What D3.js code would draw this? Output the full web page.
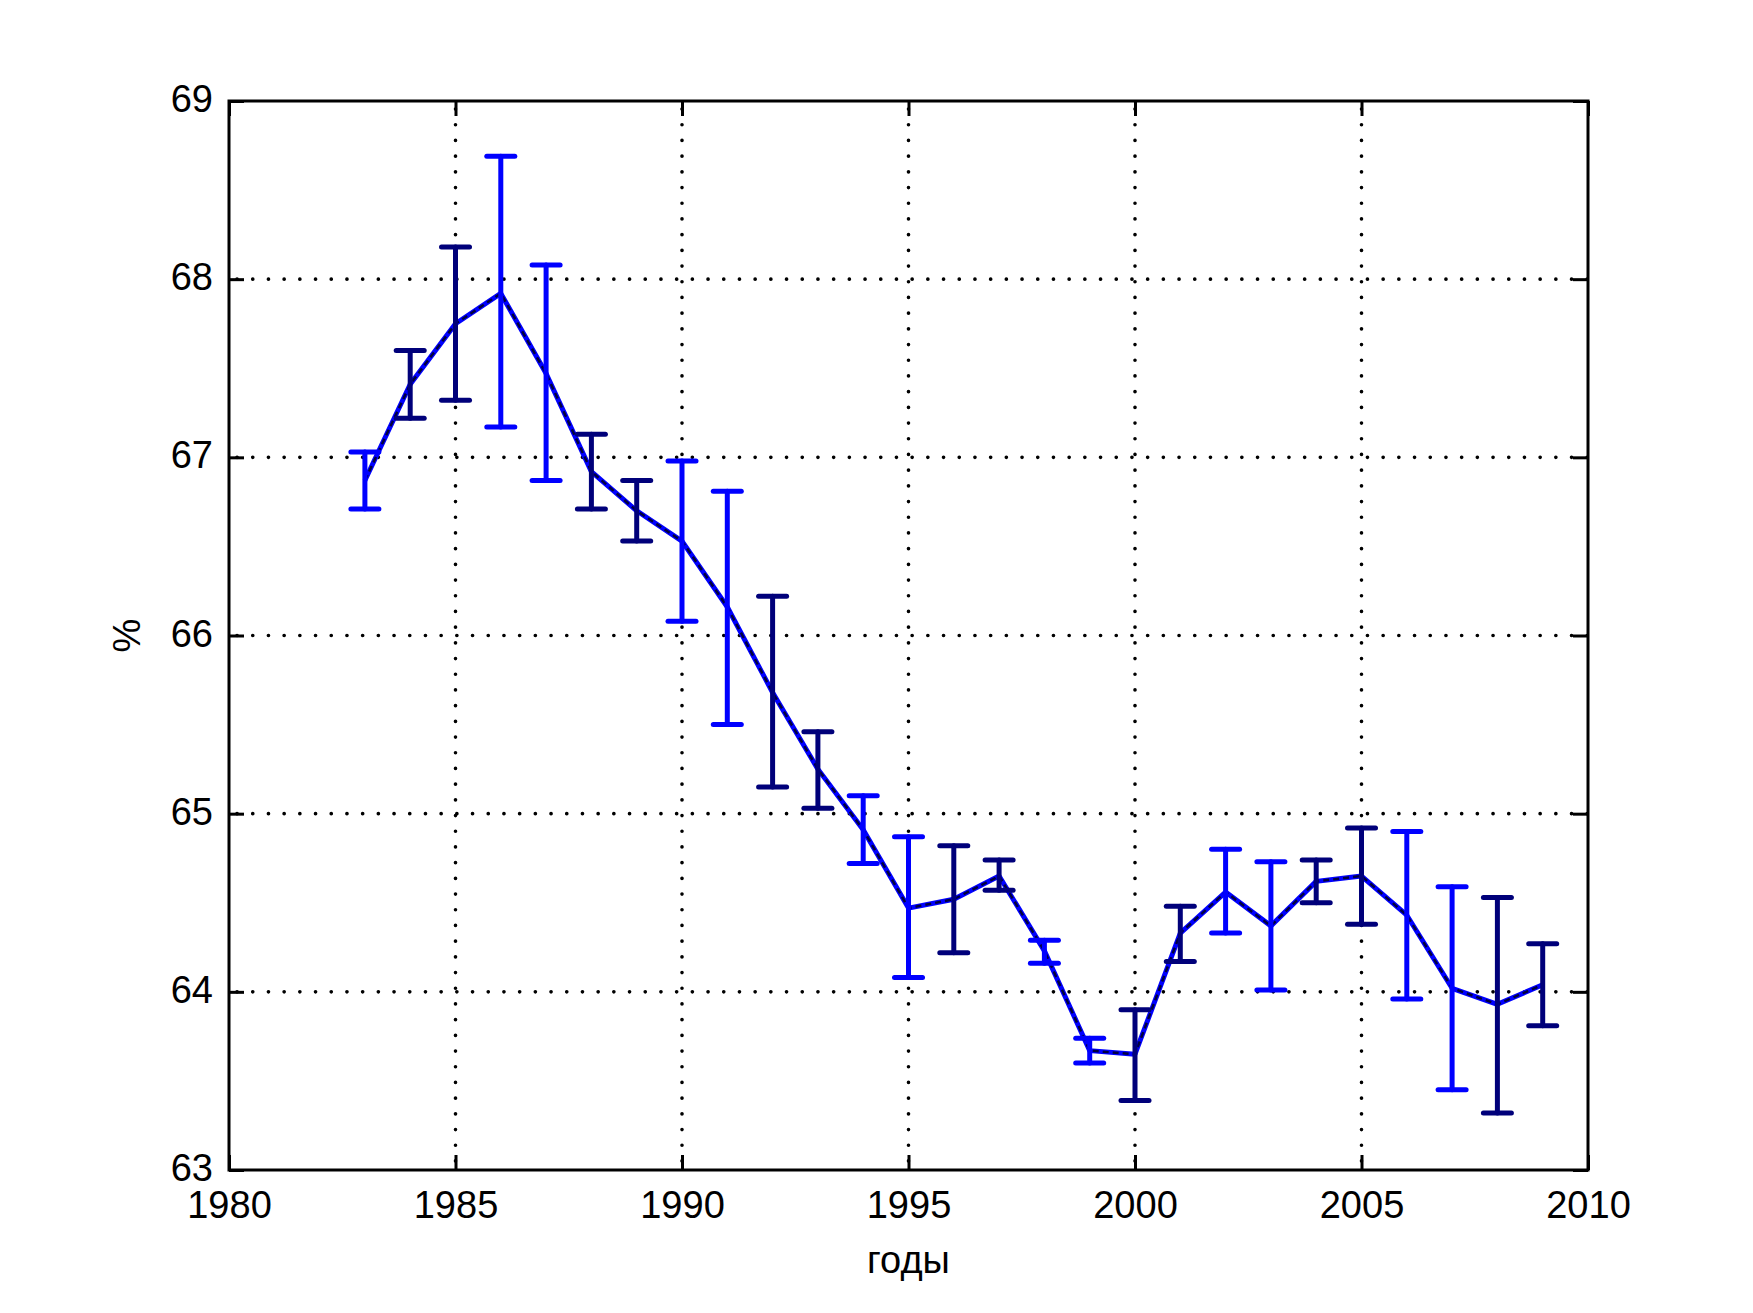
<!DOCTYPE html>
<html>
<head>
<meta charset="utf-8">
<script src="https://cdn.jsdelivr.net/npm/d3@7"></script>
<style>
  html, body { margin: 0; padding: 0; background: #fff; }
  svg { display: block; }
  text { font-family: "Liberation Sans", Arial, sans-serif; fill: #000; }
</style>
</head>
<body>
<script>
// ---- Data ----
const years  = [1983,1984,1985,1986,1987,1988,1989,1990,1991,1992,1993,1994,1995,1996,1997,1998,1999,2000,2001,2002,2003,2004,2005,2006,2007,2008,2009];
const values = [66.87,67.41,67.75,67.92,67.47,66.92,66.70,66.53,66.16,65.68,65.25,64.91,64.47,64.52,64.65,64.23,63.67,63.65,64.33,64.56,64.37,64.62,64.65,64.43,64.02,63.93,64.04];
const upper  = [67.03,67.60,68.18,68.69,68.08,67.13,66.87,66.98,66.81,66.22,65.46,65.10,64.87,64.82,64.74,64.29,63.74,63.90,64.48,64.80,64.73,64.74,64.92,64.90,64.59,64.53,64.27];
const lower  = [66.71,67.22,67.32,67.17,66.87,66.71,66.53,66.08,65.50,65.15,65.03,64.72,64.08,64.22,64.57,64.16,63.60,63.39,64.17,64.33,64.01,64.50,64.38,63.96,63.45,63.32,63.81];
const barShade = ["b","n","n","b","b","n","n","b","b","n","n","b","b","n","n","b","b","n","n","b","b","n","n","b","b","n","n"];
const xTicks = [1980,1985,1990,1995,2000,2005,2010];
const yTicks = [63,64,65,66,67,68,69];
const xLabel = "годы";
const yLabel = "%";

// ---- Layout ----
const W = 1753, H = 1313;
const mL = 229, mR = 1588, mT = 101, mB = 1170;
const colors = { b: "#0000ff", n: "#00007a" };

const svg = d3.select("body").append("svg").attr("width", W).attr("height", H);

const x = d3.scaleLinear().domain([1980, 2010]).range([mL, mR]);
const y = d3.scaleLinear().domain([63, 69]).range([mB, mT]);

// grid
const grid = svg.append("g").attr("stroke", "#000").attr("stroke-width", 3.6)
  .attr("stroke-dasharray", "0.1 15.6").attr("stroke-linecap", "round");
grid.selectAll(".gx").data(xTicks.slice(1, -1)).join("line")
  .attr("x1", d => x(d)).attr("x2", d => x(d)).attr("y1", mT + 8).attr("y2", mB);
grid.selectAll(".gy").data(yTicks.slice(1, -1)).join("line")
  .attr("y1", d => y(d)).attr("y2", d => y(d)).attr("x1", mL + 8).attr("x2", mR);

// data line: blue underlay + black dashed overlay
const pts = years.map((yr, i) => [yr, values[i]]);
const line = d3.line().x(d => x(d[0])).y(d => y(d[1]));
svg.append("path").datum(pts).attr("d", line)
  .attr("fill", "none").attr("stroke", "#0000ff").attr("stroke-width", 5).attr("stroke-linejoin", "round");
svg.append("path").datum(pts).attr("d", line)
  .attr("fill", "none").attr("stroke", "#000").attr("stroke-width", 2.5)
  .attr("stroke-dasharray", "6 4").attr("opacity", 0.75);

// error bars
const capW = 14;
const eb = svg.append("g").attr("stroke-width", 5).attr("stroke-linecap", "round");
years.forEach((yr, i) => {
  const c = colors[barShade[i]];
  const g = eb.append("g").attr("stroke", c);
  g.append("line").attr("x1", x(yr)).attr("x2", x(yr)).attr("y1", y(lower[i])).attr("y2", y(upper[i]));
  g.append("line").attr("x1", x(yr) - capW).attr("x2", x(yr) + capW).attr("y1", y(upper[i])).attr("y2", y(upper[i]));
  g.append("line").attr("x1", x(yr) - capW).attr("x2", x(yr) + capW).attr("y1", y(lower[i])).attr("y2", y(lower[i]));
});

// axes (inward ticks)
const fs = 38;
const axB = svg.append("g").attr("transform", `translate(0,${mB})`)
  .call(d3.axisBottom(x).tickValues(xTicks).tickFormat(d3.format("d")).tickSize(-15).tickPadding(21));
const axL = svg.append("g").attr("transform", `translate(${mL},0)`)
  .call(d3.axisLeft(y).tickValues(yTicks).tickFormat(d3.format("d")).tickSize(-15).tickPadding(16));
const axT = svg.append("g").attr("transform", `translate(0,${mT})`)
  .call(d3.axisTop(x).tickValues(xTicks).tickFormat("").tickSize(-15));
const axR = svg.append("g").attr("transform", `translate(${mR},0)`)
  .call(d3.axisRight(y).tickValues(yTicks).tickFormat("").tickSize(-15));
[axB, axL, axT, axR].forEach(a => {
  a.selectAll(".domain").remove();
  a.selectAll(".tick line").attr("stroke", "#000").attr("stroke-width", 3);
  a.selectAll("text").attr("font-size", fs).attr("font-family", "\"Liberation Sans\", Arial, sans-serif").attr("fill", "#000");
});
axL.selectAll("text").attr("dy", "0.28em");

// frame
svg.append("rect").attr("x", mL).attr("y", mT).attr("width", mR - mL).attr("height", mB - mT)
  .attr("fill", "none").attr("stroke", "#000").attr("stroke-width", 3);

// axis labels
svg.append("text").attr("x", (mL + mR) / 2).attr("y", 1273).attr("text-anchor", "middle")
  .attr("font-size", fs).text(xLabel);
svg.append("text").attr("transform", `translate(140,${(mT + mB) / 2}) rotate(-90)`)
  .attr("text-anchor", "middle").attr("font-size", fs).text(yLabel);
</script>
</body>
</html>
